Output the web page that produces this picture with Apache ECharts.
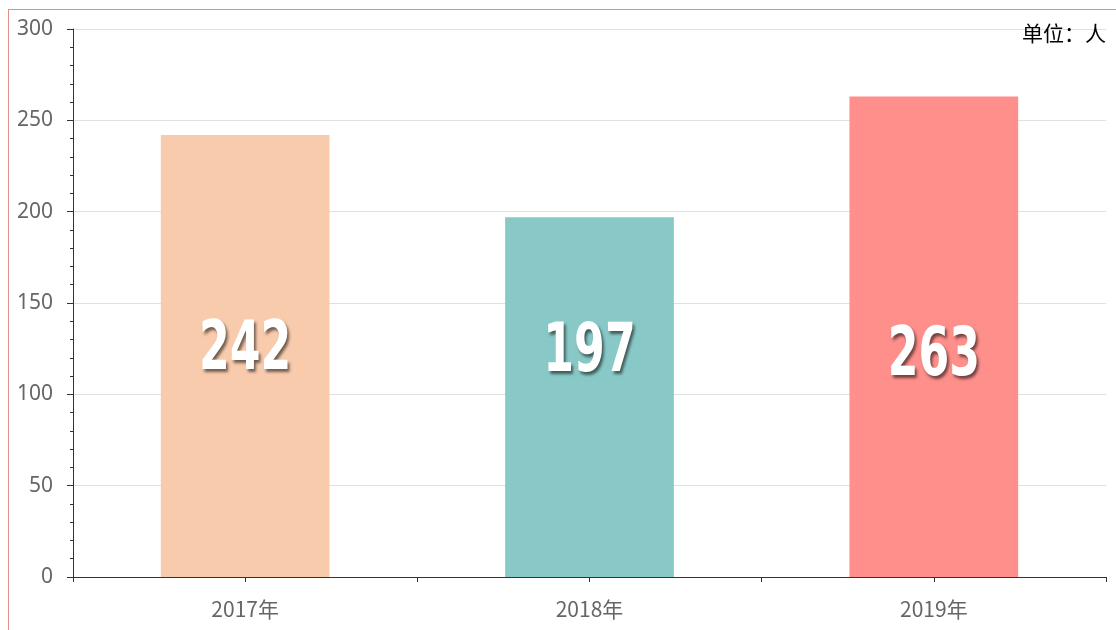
<!DOCTYPE html>
<html>
<head>
<meta charset="utf-8">
<script src="https://cdn.jsdelivr.net/npm/echarts@6/dist/echarts.min.js"></script>
<style>
  html, body { margin: 0; padding: 0; background: #fff; overflow: hidden; }
  #chart { position: absolute; left: 0; top: 0; width: 1116px; height: 630px; }
  #frame {
    position: absolute; left: 8px; top: 9px; width: 2000px; height: 2000px;
    border-left: 1px solid #e58c8c; border-top: 1px solid #e58c8c;
    pointer-events: none;
  }
</style>
</head>
<body>
<div id="chart"></div>
<div id="frame"></div>
<script>
// 数据
var years = ["2017年", "2018年", "2019年"];
var people = [242, 197, 263];
var barColors = ["#f9cbad", "#88c9c7", "#fe8f8b"];
// 数字标签相对柱子中点的偏移（像素）
var labelOffsetY = [-5, -44, 21];

var chart = echarts.init(document.getElementById("chart"));

// 标签用 custom 系列画，方便把字体压窄（类似 Impact）
function renderLabel(params, api) {
  var i = params.dataIndex;
  var v = api.value(1);
  var top = api.coord([i, v]);
  var bottom = api.coord([i, 0]);
  var cx = top[0];
  var cy = (top[1] + bottom[1]) / 2 + labelOffsetY[i];
  return {
    type: "text",
    x: cx,
    y: cy,
    scaleX: 0.65,
    style: {
      text: String(v),
      x: 0,
      y: 0,
      align: "center",
      verticalAlign: "middle",
      fill: "#fff",
      fontSize: 68,
      fontWeight: "bold",
      fontFamily: "DejaVu Sans",
      textShadowColor: "rgba(0,0,0,0.55)",
      textShadowBlur: 3,
      textShadowOffsetX: 2,
      textShadowOffsetY: 3,
    },
  };
}

var option = {
  backgroundColor: "#fff",
  title: {
    text: "单位：人",
    right: 5,
    top: 18,
    textStyle: {
      color: "#000",
      fontSize: 21,
      fontWeight: "normal",
      fontFamily: "Noto Sans CJK SC",
    },
  },
  grid: {
    left: 73,
    right: 10,
    top: 29,
    bottom: 53,
  },
  xAxis: [
    {
      type: "category",
      data: years,
      axisLine: { lineStyle: { color: "#333" } },
      axisTick: { show: true, length: 5, lineStyle: { color: "#333" } },
      axisLabel: {
        color: "#666",
        fontSize: 21,
        margin: 22,
        fontFamily: "Noto Sans CJK SC",
      },
    },
    {
      type: "category",
      data: years,
      position: "bottom",
      axisLine: { show: false },
      axisTick: { show: true, alignWithLabel: true, length: 5, lineStyle: { color: "#333" } },
      axisLabel: { show: false },
    },
  ],
  yAxis: {
    type: "value",
    min: 0,
    max: 300,
    interval: 50,
    axisLine: { show: true, lineStyle: { color: "#333" } },
    axisTick: { show: true, length: 6, lineStyle: { color: "#333" } },
    minorTick: { show: true, splitNumber: 5, length: 3, lineStyle: { color: "#333" } },
    splitLine: { show: true, lineStyle: { color: "#e0e0e0" } },
    axisLabel: {
      color: "#666",
      fontSize: 21,
      margin: 20,
      fontFamily: "Noto Sans",
    },
  },
  series: [
    {
      type: "bar",
      barWidth: "49%",
      data: people.map(function (v, i) {
        return { value: v, itemStyle: { color: barColors[i] } };
      }),
    },
    {
      type: "custom",
      renderItem: renderLabel,
      data: people.map(function (v, i) {
        return [i, v];
      }),
      z: 10,
      silent: true,
    },
  ],
};

chart.setOption(option);
window.addEventListener("resize", chart.resize);
</script>
</body>
</html>
